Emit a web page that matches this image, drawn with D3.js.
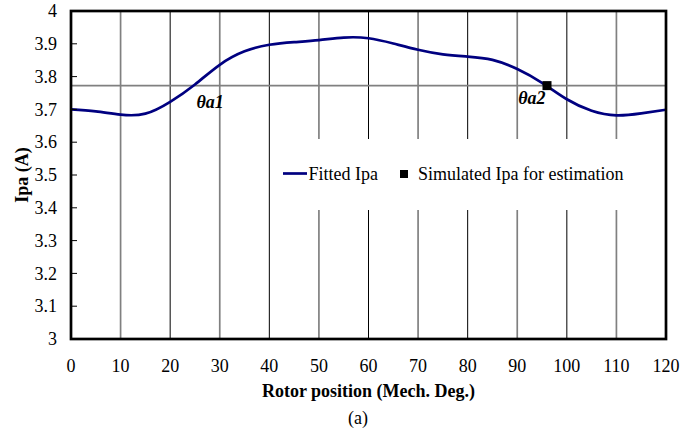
<!DOCTYPE html>
<html>
<head>
<meta charset="utf-8">
<script src="https://cdn.jsdelivr.net/npm/d3@7"></script>
<style>
  html, body { margin: 0; padding: 0; background: #fff; }
  svg { display: block; font-family: "Liberation Serif", "Times New Roman", serif; }
</style>
</head>
<body>
<svg id="chart" width="697" height="434"></svg>
<script>
// Rotor position (mechanical degrees) and fitted phase current Ipa (A)
const positions = [0, 5, 10, 15, 20, 25, 30, 35, 40, 45, 50, 55, 60, 65, 70, 75, 80, 85, 90, 95, 100, 105, 110, 115, 120];
const fittedIpa = [3.700, 3.694, 3.684, 3.687, 3.723, 3.776, 3.836, 3.877, 3.897, 3.905, 3.911, 3.919, 3.917, 3.901, 3.882, 3.868, 3.861, 3.851, 3.823, 3.781, 3.731, 3.696, 3.682, 3.688, 3.699];

// Simulated current sample used for estimation
const simulatedPos = [96];
const simulatedIpa = [3.7725];

// Reference level and the two crossing angles
const refLevel = 3.7725;
const angleLabels = ["θa1", "θa2"];
const angleLabelPos = [25.3, 95.7];

const xTicks = d3.range(0, 121, 10);
const yTicks = d3.range(30, 41).map(d => d / 10);

const svg = d3.select("#chart");
const plotL = 71, plotR = 666, plotT = 11, plotB = 339;

const x = d3.scaleLinear().domain([0, 120]).range([plotL, plotR]);
const y = d3.scaleLinear().domain([3, 4]).range([plotB, plotT]);

// Vertical grid: alternating grey and black lines
svg.append("g")
  .selectAll("line")
  .data(xTicks.filter(d => d > 0 && d < 120))
  .join("line")
  .attr("x1", d => x(d)).attr("x2", d => x(d))
  .attr("y1", plotT).attr("y2", plotB)
  .attr("stroke", d => (d / 10) % 2 === 1 ? "#808080" : "#000")
  .attr("stroke-width", d => (d / 10) % 2 === 1 ? 1.7 : 1);

// Horizontal reference line
svg.append("line")
  .attr("x1", plotL).attr("x2", plotR)
  .attr("y1", y(refLevel)).attr("y2", y(refLevel))
  .attr("stroke", "#808080").attr("stroke-width", 1.7);

// Fitted current curve
const line = d3.line()
  .x((d, i) => x(positions[i]))
  .y(d => y(d))
  .curve(d3.curveNatural);

svg.append("path")
  .datum(fittedIpa)
  .attr("d", line)
  .attr("fill", "none")
  .attr("stroke", "#000080")
  .attr("stroke-width", 2.7);

// Simulated sample marker
svg.append("g")
  .selectAll("rect")
  .data(simulatedPos)
  .join("rect")
  .attr("x", (d) => x(d) - 4.5)
  .attr("y", (d, i) => y(simulatedIpa[i]) - 4.5)
  .attr("width", 9).attr("height", 9)
  .attr("fill", "#000");

// Angle labels
svg.append("g")
  .selectAll("text")
  .data(angleLabels)
  .join("text")
  .attr("x", (d, i) => x(angleLabelPos[i]))
  .attr("y", (d, i) => i === 0 ? 108 : 103.5)
  .attr("text-anchor", (d, i) => i === 0 ? "start" : "end")
  .attr("font-size", 18)
  .attr("font-weight", "bold")
  .attr("font-style", "italic")
  .text(d => d);

// Legend (white backing box)
const lg = svg.append("g");
lg.append("rect")
  .attr("x", 272).attr("y", 139).attr("width", 390).attr("height", 71)
  .attr("fill", "#fff");
lg.append("line")
  .attr("x1", 283).attr("x2", 307).attr("y1", 173.5).attr("y2", 173.5)
  .attr("stroke", "#000080").attr("stroke-width", 2.7);
lg.append("text")
  .attr("x", 308.5).attr("y", 180)
  .attr("font-size", 18)
  .text("Fitted Ipa");
lg.append("rect")
  .attr("x", 400).attr("y", 170).attr("width", 8).attr("height", 8)
  .attr("fill", "#000");
lg.append("text")
  .attr("x", 418).attr("y", 180)
  .attr("font-size", 18)
  .text("Simulated Ipa for estimation");

// Y-axis inner ticks
svg.append("g")
  .selectAll("line")
  .data(yTicks.filter(d => d > 3 && d < 4))
  .join("line")
  .attr("x1", plotL).attr("x2", plotL + 6)
  .attr("y1", d => y(d)).attr("y2", d => y(d))
  .attr("stroke", "#000").attr("stroke-width", 1);

// Plot frame
svg.append("rect")
  .attr("x", plotL).attr("y", plotT)
  .attr("width", plotR - plotL).attr("height", plotB - plotT)
  .attr("fill", "none").attr("stroke", "#000").attr("stroke-width", 2.7);

// Tick labels
svg.append("g")
  .selectAll("text")
  .data(yTicks)
  .join("text")
  .attr("x", 57)
  .attr("y", d => y(d))
  .attr("dy", "0.34em")
  .attr("text-anchor", "end")
  .attr("font-size", 18)
  .text(d => String(+d.toFixed(1)));

svg.append("g")
  .selectAll("text")
  .data(xTicks)
  .join("text")
  .attr("x", d => x(d))
  .attr("y", 372)
  .attr("text-anchor", "middle")
  .attr("font-size", 18)
  .text(d => d);

// Axis titles and caption
svg.append("text")
  .attr("x", (plotL + plotR) / 2).attr("y", 397)
  .attr("text-anchor", "middle")
  .attr("font-size", 18).attr("font-weight", "bold")
  .text("Rotor position (Mech. Deg.)");

svg.append("text")
  .attr("transform", `translate(28,${(plotT + plotB) / 2}) rotate(-90)`)
  .attr("text-anchor", "middle")
  .attr("font-size", 18).attr("font-weight", "bold")
  .text("Ipa (A)");

svg.append("text")
  .attr("x", 358).attr("y", 424)
  .attr("text-anchor", "middle")
  .attr("font-size", 18)
  .text("(a)");
</script>
</body>
</html>
